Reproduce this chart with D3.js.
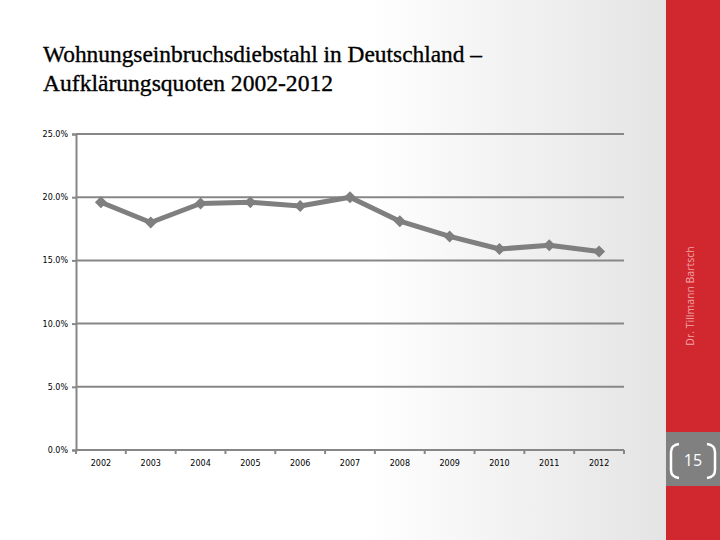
<!DOCTYPE html>
<html>
<head>
<meta charset="utf-8">
<script src="https://cdn.jsdelivr.net/npm/d3@7"></script>
<style>
  body { margin: 0; padding: 0; }
  svg { display: block; }
</style>
</head>
<body>
<script>
// Aufklaerungsquoten Wohnungseinbruchsdiebstahl 2002-2012

const years = ["2002", "2003", "2004", "2005", "2006", "2007", "2008", "2009", "2010", "2011", "2012"];
const rates = [19.6, 18.0, 19.5, 19.6, 19.3, 20.0, 18.1, 16.9, 15.9, 16.2, 15.7];
const yTicks = [0, 5, 10, 15, 20, 25];
const titleLines = ["Wohnungseinbruchsdiebstahl in Deutschland \u2013", "Aufkl\u00e4rungsquoten 2002-2012"];

const outerWidth = 720;
const outerHeight = 540;
const margin = {top: 134, right: 96, bottom: 90, left: 76};

const innerWidth = 624 - margin.left;
const innerHeight = 450 - margin.top;

const svg = d3.select("body").append("svg")
    .attr("width", outerWidth)
    .attr("height", outerHeight);

// slide background
const defs = svg.append("defs");
const grad = defs.append("linearGradient")
    .attr("id", "bg")
    .attr("x1", "0%").attr("x2", "100%")
    .attr("y1", "0%").attr("y2", "0%");
grad.append("stop").attr("offset", "0%").attr("stop-color", "#ffffff");
grad.append("stop").attr("offset", "55%").attr("stop-color", "#ffffff");
grad.append("stop").attr("offset", "100%").attr("stop-color", "#e4e4e4");

svg.append("rect")
    .attr("width", 666).attr("height", outerHeight)
    .attr("fill", "url(#bg)");

// red side bar
svg.append("rect")
    .attr("x", 666).attr("y", 0)
    .attr("width", 54).attr("height", outerHeight)
    .attr("fill", "#d0282e");

svg.append("rect")
    .attr("x", 666).attr("y", 432)
    .attr("width", 54).attr("height", 54)
    .attr("fill", "#808080");

// page number brackets
svg.append("path")
    .attr("d", "M679,444 Q671,445 671,452 L671,470 Q671,477 679,478")
    .attr("fill", "none").attr("stroke", "#ffffff").attr("stroke-width", 2.5);
svg.append("path")
    .attr("d", "M707,444 Q715,445 715,452 L715,470 Q715,477 707,478")
    .attr("fill", "none").attr("stroke", "#ffffff").attr("stroke-width", 2.5);

svg.append("text")
    .attr("x", 693).attr("y", 466)
    .attr("text-anchor", "middle")
    .attr("font-family", "'Open Sans', sans-serif")
    .attr("font-size", 16)
    .attr("fill", "#ffffff")
    .text("15");

svg.append("text")
    .attr("transform", "translate(694,296)rotate(-90)")
    .attr("text-anchor", "middle")
    .attr("font-family", "'Open Sans', sans-serif")
    .attr("font-size", 10.5)
    .attr("fill", "#f2a3a5")
    .text("Dr. Tillmann Bartsch");

// title
svg.selectAll(".title")
    .data(titleLines)
    .join("text")
    .attr("class", "title")
    .attr("x", 43)
    .attr("y", (d, i) => 62 + i * 29)
    .attr("font-family", "'Liberation Serif', serif")
    .attr("font-size", 24)
    .attr("fill", "#000000")
    .attr("stroke", "#000000")
    .attr("stroke-width", 0.35)
    .attr("textLength", (d, i) => i === 0 ? 439 : 290)
    .attr("lengthAdjust", "spacingAndGlyphs")
    .text(d => d);

const inner = svg.append("g")
    .attr("transform", "translate(" + margin.left + "," + margin.top + ")");

const xBand = d3.scaleBand()
    .domain(years)
    .range([0, innerWidth]);

const yScale = d3.scaleLinear()
    .domain([0, 25])
    .range([innerHeight, 0]);

// grid
inner.selectAll(".grid")
    .data(yTicks.filter(d => d > 0))
    .join("line")
    .attr("class", "grid")
    .attr("x1", 0).attr("x2", innerWidth)
    .attr("y1", d => yScale(d)).attr("y2", d => yScale(d))
    .attr("stroke", "#878787")
    .attr("stroke-width", 2);

// y axis
const yAxis = inner.append("g")
    .call(d3.axisLeft(yScale).tickValues(yTicks).tickSize(4).tickPadding(4)
        .tickFormat(d => d3.format(".1f")(d) + "%"));
yAxis.attr("font-size", 8);
yAxis.select(".domain").attr("stroke", "#878787").attr("stroke-width", 2);
yAxis.selectAll(".tick line").attr("stroke", "#878787").attr("stroke-width", 2);
yAxis.selectAll("text")
    .attr("font-family", "'DejaVu Sans', sans-serif")
    .attr("font-size", 8)
    .attr("fill", "#000000");

// x axis, ticks between categories
const xAxis = inner.append("g")
    .attr("transform", "translate(0," + innerHeight + ")");
xAxis.append("line")
    .attr("x1", 0).attr("x2", innerWidth)
    .attr("stroke", "#878787").attr("stroke-width", 2);
xAxis.selectAll(".xtick")
    .data(years.concat(["end"]))
    .join("line")
    .attr("class", "xtick")
    .attr("x1", (d, i) => i < years.length ? xBand(d) : innerWidth)
    .attr("x2", (d, i) => i < years.length ? xBand(d) : innerWidth)
    .attr("y1", 0).attr("y2", 4)
    .attr("stroke", "#878787").attr("stroke-width", 2);
xAxis.selectAll(".xlabel")
    .data(years)
    .join("text")
    .attr("class", "xlabel")
    .attr("x", d => xBand(d) + xBand.bandwidth() / 2)
    .attr("y", 16)
    .attr("text-anchor", "middle")
    .attr("font-family", "'DejaVu Sans', sans-serif")
    .attr("font-size", 8)
    .attr("fill", "#000000")
    .text(d => d);

// series
const points = years.map((y, i) => ({year: y, rate: rates[i]}));

const line = d3.line()
    .x(d => xBand(d.year) + xBand.bandwidth() / 2)
    .y(d => yScale(d.rate));

inner.append("path")
    .datum(points)
    .attr("d", line)
    .attr("fill", "none")
    .attr("stroke", "#7f7f7f")
    .attr("stroke-width", 5)
    .attr("stroke-linejoin", "round");

inner.selectAll(".marker")
    .data(points)
    .join("path")
    .attr("class", "marker")
    .attr("d", d3.symbol().type(d3.symbolSquare).size(72))
    .attr("transform", d => "translate(" + (xBand(d.year) + xBand.bandwidth() / 2) + "," + yScale(d.rate) + ")rotate(45)")
    .attr("fill", "#7f7f7f");
</script>
</body>
</html>
